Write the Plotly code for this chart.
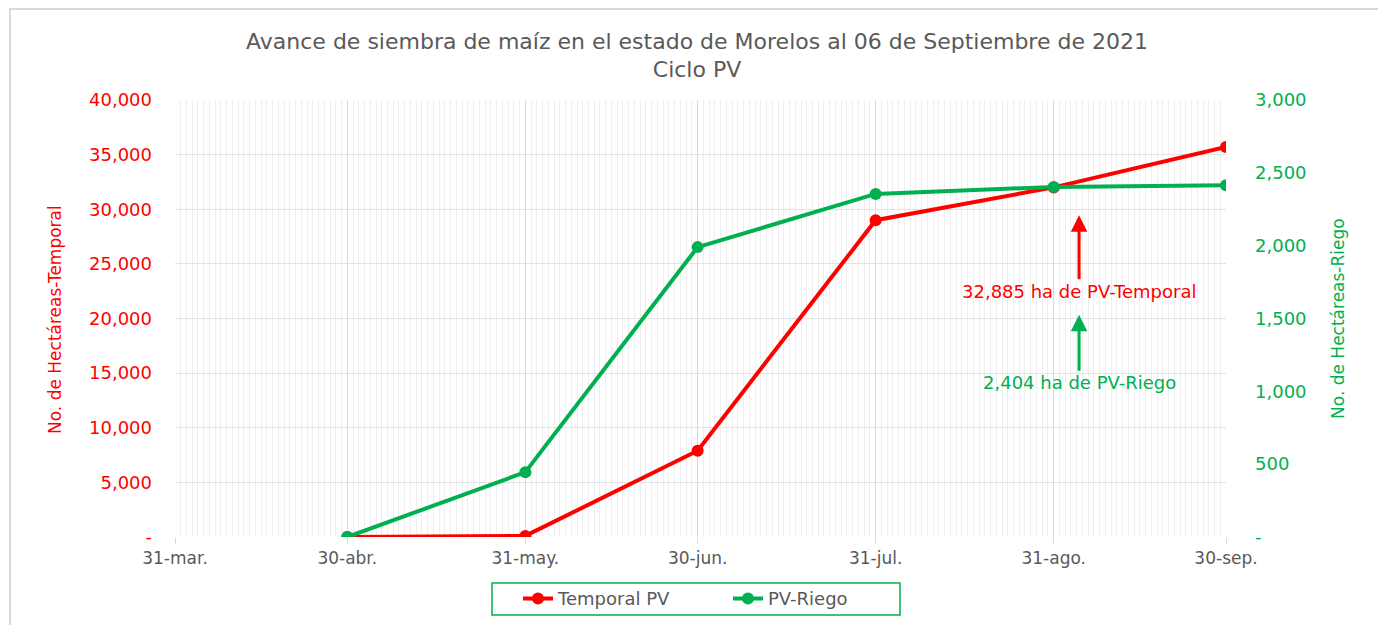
import plotly.graph_objects as go

dates = ["2021-04-30", "2021-05-31", "2021-06-30", "2021-07-31", "2021-08-31", "2021-09-30"]
temporal = [0, 100, 7900, 29000, 32000, 35700]
riego = [0, 445, 1990, 2355, 2403, 2415]

xtick_vals = ["2021-03-31", "2021-04-30", "2021-05-31", "2021-06-30", "2021-07-31", "2021-08-31", "2021-09-30"]
xtick_text = ["31-mar.", "30-abr.", "31-may.", "30-jun.", "31-jul.", "31-ago.", "30-sep."]
y1_vals = [0, 5000, 10000, 15000, 20000, 25000, 30000, 35000, 40000]
y1_text = ["-"] + [f"{v:,}" for v in y1_vals[1:]]
y2_vals = [0, 500, 1000, 1500, 2000, 2500, 3000]
y2_text = ["-"] + [f"{v:,}" for v in y2_vals[1:]]

RED = "#FF0000"
GREEN = "#00B050"
GREY = "#595959"
FONT = "DejaVu Sans"

# page body has an 8px margin; the layout compensates for it
W, H = 1386, 625
L, T = 167, 92
PW, PH = 1051, 437

fig = go.Figure()
fig.add_trace(go.Scatter(x=dates, y=temporal, name="Temporal PV", mode="lines+markers",
                         line=dict(color=RED, width=4), marker=dict(size=12, color=RED)))
fig.add_trace(go.Scatter(x=dates, y=riego, name="PV-Riego", mode="lines+markers", yaxis="y2",
                         line=dict(color=GREEN, width=4), marker=dict(size=12, color=GREEN)))

fig.update_layout(
    width=W, height=H,
    margin=dict(l=L, r=W - L - PW, t=T, b=H - T - PH, autoexpand=False),
    paper_bgcolor="white", plot_bgcolor="white",
    font=dict(family=FONT, color=GREY),
    title=dict(text="Avance de siembra de maíz en el estado de Morelos al 06 de Septiembre de 2021<br>Ciclo PV",
               x=689 / W, xanchor="center", y=1 - 40.5 / H, yanchor="middle",
               font=dict(size=22, color=GREY, family=FONT)),
    xaxis=dict(type="date", range=["2021-03-31", "2021-09-30"],
               tickvals=xtick_vals, ticktext=xtick_text,
               tickfont=dict(size=17, color=GREY),
               showgrid=True, gridcolor="#d9d9d9", gridwidth=1,
               ticks="outside", ticklen=6, tickcolor="#d9d9d9",
               minor=dict(dtick=86400000, tick0="2021-03-31", showgrid=True,
                          gridcolor="#eeeeee", gridwidth=1),
               showline=False, zeroline=False),
    yaxis=dict(range=[0, 40000], tickvals=y1_vals, ticktext=y1_text,
               tickfont=dict(size=18, color=RED),
               showgrid=True, gridcolor="#e3e3e3", gridwidth=1,
               zeroline=False, showline=False, ticks="", ticklabelstandoff=22),
    yaxis2=dict(range=[0, 3000], tickvals=y2_vals, ticktext=y2_text, overlaying="y", side="right",
                tickfont=dict(size=18, color=GREEN), showgrid=False, zeroline=False, showline=False,
                ticklabelstandoff=28),
    legend=dict(orientation="h", x=(518 - 175) / PW, xanchor="left", y=-0.099, yanchor="top",
                borderwidth=0, bgcolor="rgba(0,0,0,0)", font=dict(size=18, color=GREY),
                entrywidth=165, entrywidthmode="pixels", itemwidth=30),
    showlegend=True,
)

# axis titles
fig.add_annotation(text="No. de Hectáreas-Temporal", xref="paper", yref="paper",
                   x=(47 - L) / PW, y=0.4966, textangle=-90, showarrow=False,
                   xanchor="center", yanchor="middle", font=dict(size=17, color=RED))
fig.add_annotation(text="No. de Hectáreas-Riego", xref="paper", yref="paper",
                   x=(1330 - L) / PW, y=0.499, textangle=-90, showarrow=False,
                   xanchor="center", yanchor="middle", font=dict(size=17, color=GREEN))

# callouts
fig.add_annotation(x="2021-09-04 10:00", y=29450, xref="x", yref="y",
                   text="32,885 ha de PV-Temporal", showarrow=True, ax=0, ay=76,
                   arrowhead=2, arrowsize=1.1, arrowwidth=3, arrowcolor=RED,
                   font=dict(size=18, color=RED))
fig.add_annotation(x="2021-09-04 10:00", y=1525, xref="x", yref="y2",
                   text="2,404 ha de PV-Riego", showarrow=True, ax=0, ay=68,
                   arrowhead=2, arrowsize=1.1, arrowwidth=3, arrowcolor=GREEN,
                   font=dict(size=18, color=GREEN))

# legend box
fig.add_shape(type="rect", xref="paper", yref="paper",
              x0=(492 - 175) / PW, x1=(900 - 175) / PW, y0=(537 - 615) / PH, y1=(537 - 583) / PH,
              line=dict(color=GREEN, width=1.5), layer="above")

# outer frame
fig.add_shape(type="rect", xref="paper", yref="paper",
              x0=(2 - L) / PW, x1=(1374 - L) / PW, y0=-0.4, y1=(T + PH - 1) / PH,
              line=dict(color="#d9d9d9", width=2), layer="below")

fig.write_html("out.html")
